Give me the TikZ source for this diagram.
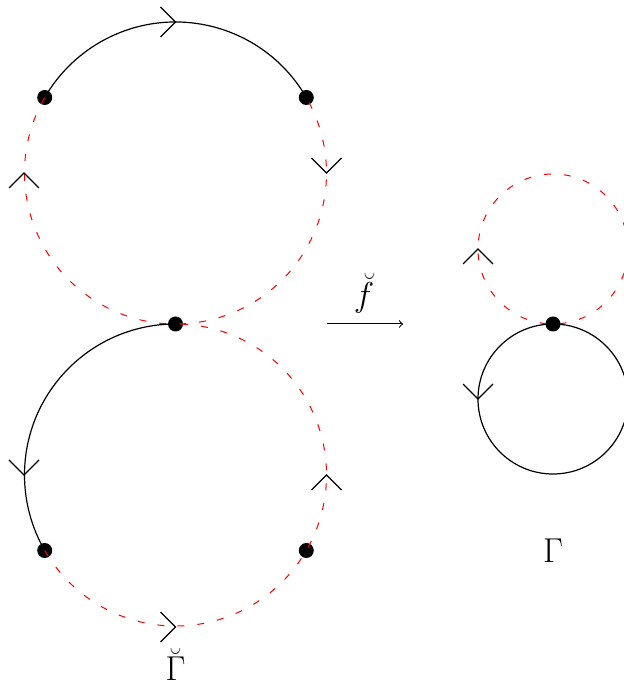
\documentclass[tikz,border=0pt]{standalone}
\usetikzlibrary{calc}
\begin{document}
\begin{tikzpicture}[x=0.5pt,y=0.5pt,
  solidarc/.style={black,line width=0.6pt},
  redarc/.style={red,line width=0.5pt,dash pattern=on 3.5pt off 6.5pt},
  dotmark/.style={circle,fill=black,inner sep=0pt,minimum size=7.5pt},
  chev/.pic={\draw[black,line width=0.6pt] (-15,15) -- (0,0) -- (-15,-15);},
  lbl/.style={font=\fontsize{16}{19}\selectfont,anchor=base,inner sep=0pt}]
\useasboundingbox (0,0) rectangle (623,680);
% centres
\coordinate (C1) at (175.5,507);
\coordinate (C2) at (175.5,205);
\coordinate (C3) at (553,431);
\coordinate (C4) at (553,281);
% dots
\node[dotmark] (d1) at ($(C1)+(150:151)$) {};
\node[dotmark] (d2) at ($(C1)+(30:151)$) {};
\node[dotmark] (d3) at ($(C1)+(270:151)$) {};
\node[dotmark] (d4) at ($(C2)+(210:151)$) {};
\node[dotmark] (d5) at ($(C2)+(330:151)$) {};
\node[dotmark] (d6) at ($(C3)+(270:75)$) {};
% left upper circle
\draw[solidarc] ($(C1)+(30:151)$) arc[start angle=30,end angle=150,radius=151];
\draw[redarc] ($(C1)+(150:151)$) arc[start angle=150,end angle=390,radius=151];
% left lower circle
\draw[solidarc] ($(C2)+(90:151)$) arc[start angle=90,end angle=210,radius=151];
\draw[redarc] ($(C2)+(210:151)$) arc[start angle=210,end angle=450,radius=151];
% right circles
\draw[redarc] (C3) circle[radius=75];
\draw[solidarc] (C4) circle[radius=75];
% chevrons
\pic at (175.5,658) {chev};
\pic[rotate=-90] at (326.5,507) {chev};
\pic[rotate=90] at (24,507) {chev};
\pic[rotate=-90] at (24,205) {chev};
\pic[rotate=90] at (326.5,205) {chev};
\pic at (175.5,53) {chev};
\pic[rotate=90] at (478,431) {chev};
\pic[rotate=-90] at (478,281) {chev};
% map arrow
\coordinate (a1) at (327,356);
\coordinate (a2) at (403,356);
\draw[->,line width=0.5pt] (a1) -- (a2);
\node[lbl] (fl) at (364,373) {$\breve{f}$};
\node[lbl] (g1) at (175.5,-1) {$\breve{\Gamma}$};
\node[lbl] (g2) at (553,117) {$\Gamma$};
\end{tikzpicture}
\end{document}
